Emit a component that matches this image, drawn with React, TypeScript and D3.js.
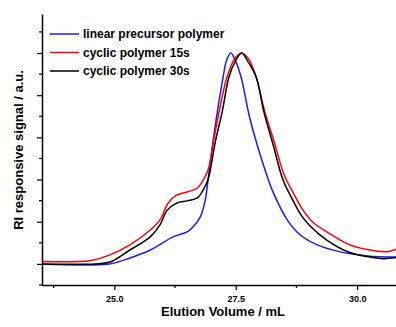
import { useEffect, useRef } from "react";
import * as d3 from "d3";

/* ---------- data ---------- */

const linearVolume = [23.5, 24.9, 25.32, 25.74, 26.21, 26.5, 26.62, 26.77, 26.87, 26.93, 27.02, 27.12, 27.24, 27.31, 27.4, 27.49, 27.61, 27.78, 27.96, 28.17, 28.25, 28.56, 28.83, 29.18, 29.65, 30.21, 30.8];
const linearSignal = [0, 0, 0.028, 0.066, 0.128, 0.152, 0.175, 0.223, 0.3, 0.4, 0.56, 0.72, 0.886, 0.965, 1.0, 0.965, 0.886, 0.7, 0.55, 0.4, 0.35, 0.209, 0.137, 0.09, 0.057, 0.038, 0.033];

const cyclic15Volume = [23.5, 24.3, 24.5, 24.91, 25.32, 25.74, 25.94, 26.11, 26.29, 26.5, 26.71, 26.83, 26.93, 27.05, 27.16, 27.32, 27.47, 27.62, 27.77, 27.92, 28.1, 28.29, 28.5, 28.7, 28.9, 29.1, 29.39, 29.8, 30.21, 30.62, 30.8];
const cyclic15Signal = [0.012, 0.011, 0.015, 0.043, 0.09, 0.161, 0.209, 0.289, 0.327, 0.341, 0.36, 0.398, 0.445, 0.59, 0.725, 0.886, 0.97, 1.0, 0.97, 0.886, 0.72, 0.58, 0.42, 0.33, 0.25, 0.195, 0.15, 0.095, 0.068, 0.058, 0.07];

const cyclic30Volume = [23.5, 24.6, 24.91, 25.32, 25.74, 25.94, 26.09, 26.29, 26.5, 26.71, 26.83, 26.93, 27.08, 27.22, 27.36, 27.49, 27.62, 27.75, 27.92, 28.08, 28.27, 28.47, 28.68, 28.85, 29.03, 29.39, 29.8, 30.21, 30.54, 30.8];
const cyclic30Signal = [0, 0, 0.009, 0.066, 0.128, 0.185, 0.256, 0.289, 0.299, 0.313, 0.351, 0.4, 0.58, 0.72, 0.886, 0.96, 1.0, 0.96, 0.886, 0.72, 0.565, 0.4, 0.3, 0.23, 0.18, 0.11, 0.058, 0.035, 0.025, 0.03];

const seriesNames = ["linear precursor polymer", "cyclic polymer 15s", "cyclic polymer 30s"];
const seriesColors = ["#1a1aff", "#ff0000", "#000000"];

const xMajorTicks = [25, 27.5, 30];
const xMinorTicks = [23.75, 26.25, 28.75];
const yMajorTicks = [0, 0.2, 0.4, 0.6, 0.8, 1.0];
const yMinorTicks = [-0.1, 0.1, 0.3, 0.5, 0.7, 0.9, 1.1];

const xTitle = "Elution Volume / mL";
const yTitle = "RI responsive signal / a.u.";

/* ---------- chart ---------- */

const W = 396;
const H = 327;
const margin = { top: 14, right: 0, bottom: 42, left: 42 };
const FONT = "'Liberation Sans', Arial, sans-serif";

export default function App() {
  const svgRef = useRef<SVGSVGElement>(null);

  useEffect(() => {
    const svg = d3.select(svgRef.current);
    svg.selectAll("*").remove();

    const innerW = W - margin.left - margin.right;
    const innerH = H - margin.top - margin.bottom;

    const x = d3.scaleLinear().domain([23.51, 30.8]).range([0, innerW]);
    const y = d3.scaleLinear().domain([-0.1, 1.185]).range([innerH, 0]);

    const g = svg.append("g").attr("transform", `translate(${margin.left},${margin.top})`);

    g.append("clipPath")
      .attr("id", "plot-clip")
      .append("rect")
      .attr("width", innerW)
      .attr("height", innerH);

    const series = [
      linearVolume.map((v, i) => [v, linearSignal[i]] as [number, number]),
      cyclic15Volume.map((v, i) => [v, cyclic15Signal[i]] as [number, number]),
      cyclic30Volume.map((v, i) => [v, cyclic30Signal[i]] as [number, number]),
    ];

    const line = d3
      .line<[number, number]>()
      .x((d) => x(d[0]))
      .y((d) => y(d[1]))
      .curve(d3.curveCatmullRom.alpha(0.5));

    const plot = g.append("g").attr("clip-path", "url(#plot-clip)");
    series.forEach((s, i) => {
      plot
        .append("path")
        .datum(s)
        .attr("d", line)
        .attr("fill", "none")
        .attr("stroke", seriesColors[i])
        .attr("stroke-width", 1.5)
        .attr("stroke-linejoin", "round");
    });

    // X axis: major + minor ticks
    const xAxis = g.append("g").attr("transform", `translate(0,${innerH})`);
    xAxis
      .call(d3.axisBottom(x).tickValues(xMajorTicks).tickSize(5).tickSizeOuter(0).tickFormat(d3.format(".1f")))
      .call((gg) => gg.select(".domain").attr("stroke", "#000").attr("stroke-width", 1.5))
      .call((gg) => gg.selectAll("line").attr("stroke", "#000").attr("stroke-width", 1.2))
      .call((gg) =>
        gg
          .selectAll("text")
          .attr("font-family", FONT)
          .attr("font-weight", "bold")
          .attr("font-size", 9)
          .attr("fill", "#000")
          .attr("dy", "1.05em"),
      );
    xAxis
      .selectAll(".minor")
      .data(xMinorTicks)
      .join("line")
      .attr("x1", (d) => x(d))
      .attr("x2", (d) => x(d))
      .attr("y1", 0)
      .attr("y2", 3)
      .attr("stroke", "#000")
      .attr("stroke-width", 1.2);

    // Y axis: ticks only, no labels
    const yAxis = g.append("g");
    yAxis
      .call(d3.axisLeft(y).tickValues(yMajorTicks).tickSize(5).tickSizeOuter(0).tickFormat(() => ""))
      .call((gg) => gg.select(".domain").attr("stroke", "#000").attr("stroke-width", 1.5))
      .call((gg) => gg.selectAll("line").attr("stroke", "#000").attr("stroke-width", 1.2));
    yAxis
      .selectAll(".minor")
      .data(yMinorTicks)
      .join("line")
      .attr("x1", 0)
      .attr("x2", -3)
      .attr("y1", (d) => y(d))
      .attr("y2", (d) => y(d))
      .attr("stroke", "#000")
      .attr("stroke-width", 1.2);

    // Axis titles
    svg
      .append("text")
      .attr("x", 223)
      .attr("y", 316)
      .attr("text-anchor", "middle")
      .attr("font-family", FONT)
      .attr("font-weight", "bold")
      .attr("font-size", 13)
      .text(xTitle);

    svg
      .append("text")
      .attr("transform", `translate(23,150) rotate(-90)`)
      .attr("text-anchor", "middle")
      .attr("font-family", FONT)
      .attr("font-weight", "bold")
      .attr("font-size", 13)
      .text(yTitle);

    // Legend
    const legend = svg.append("g").attr("transform", "translate(50,34)");
    seriesNames.forEach((name, i) => {
      const row = legend.append("g").attr("transform", `translate(0,${i * 18.5})`);
      row
        .append("line")
        .attr("x1", 0)
        .attr("x2", 29)
        .attr("stroke", seriesColors[i])
        .attr("stroke-width", 1.5);
      row
        .append("text")
        .attr("x", 33)
        .attr("y", 4.3)
        .attr("font-family", FONT)
        .attr("font-weight", "bold")
        .attr("font-size", 12)
        .text(name);
    });
  }, []);

  return (
    <svg
      ref={svgRef}
      width={W}
      height={H}
      style={{ position: "absolute", left: 0, top: 0, background: "#fff" }}
    />
  );
}
